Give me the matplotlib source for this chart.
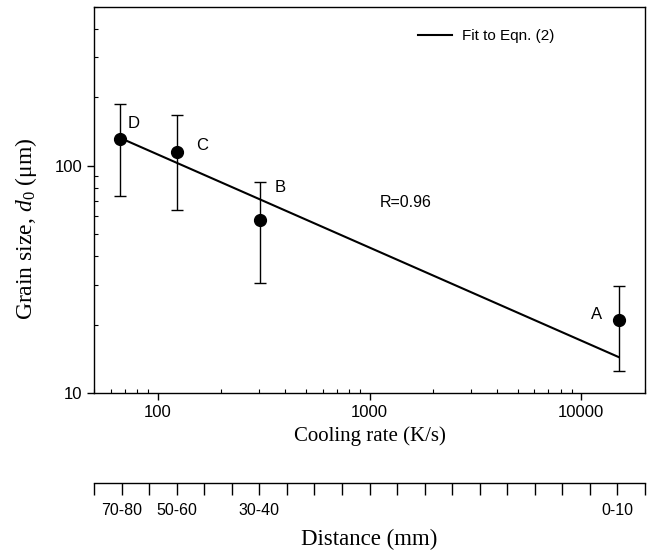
import numpy as np
import matplotlib
matplotlib.use("Agg")
import matplotlib.pyplot as plt
from matplotlib.ticker import FixedLocator, NullFormatter, LogLocator

# ---- data ----
sample_names = ["D", "C", "B", "A"]
cooling_rate = [66, 123, 305, 15000]          # K/s
grain_size = [131, 115, 57.5, 21]             # um
err_upper = [188, 167, 85, 29.5]              # top of error bar
err_lower = [74, 64, 30.5, 12.5]              # bottom of error bar

fit_rate = [66, 15000]
fit_size = [133, 14.4]

label_offsets = [(10, 11), (18, 5), (14, 24), (-16, 4)]   # points

distance_ticks = list(range(21))
distance_label_pos = [1, 3, 6, 19]
distance_labels = ["70-80", "50-60", "30-40", "0-10"]

sans = ["Liberation Sans", "DejaVu Sans"]
serif = ["Liberation Serif", "DejaVu Serif"]
plt.rcParams["font.family"] = sans
plt.rcParams["mathtext.fontset"] = "custom"
plt.rcParams["mathtext.rm"] = "Liberation Serif"
plt.rcParams["mathtext.it"] = "Liberation Serif:italic"

fig = plt.figure(figsize=(6.5, 5.5), dpi=100)
ax = fig.add_axes([94 / 650, 1 - 393 / 550, 551 / 650, 386 / 550])

yerr = [np.array(grain_size) - np.array(err_lower),
        np.array(err_upper) - np.array(grain_size)]
ax.errorbar(cooling_rate, grain_size, yerr=yerr, fmt="o", color="black",
            markersize=8.5, ecolor="black", elinewidth=1, capsize=4, capthick=1)
ax.plot(fit_rate, fit_size, color="black", lw=1.5, label="Fit to Eqn. (2)")

for name, x, y, off in zip(sample_names, cooling_rate, grain_size, label_offsets):
    ax.annotate(name, (x, y), xytext=off, textcoords="offset points",
                ha="center", va="center", fontsize=12)

ax.text(1476, 68.7, "R=0.96", ha="center", va="center", fontsize=11.5)

ax.set_xscale("log")
ax.set_yscale("log")
ax.set_xlim(50, 20000)
ax.set_ylim(10, 500)

ax.xaxis.set_major_locator(FixedLocator([100, 1000, 10000]))
ax.set_xticklabels(["100", "1000", "10000"])
ax.xaxis.set_minor_locator(LogLocator(base=10, subs=np.arange(2, 10)))
ax.xaxis.set_minor_formatter(NullFormatter())
ax.yaxis.set_major_locator(FixedLocator([10, 100]))
ax.set_yticklabels(["10", "100"])
ax.yaxis.set_minor_locator(LogLocator(base=10, subs=np.arange(2, 10)))
ax.yaxis.set_minor_formatter(NullFormatter())

ax.tick_params(which="major", direction="out", length=5, width=1, labelsize=12)
ax.tick_params(which="minor", direction="in", length=3, width=0.8)
for sp in ax.spines.values():
    sp.set_linewidth(1)

ax.set_xlabel("Cooling rate (K/s)", family=serif, fontsize=15)
ax.xaxis.set_label_coords(0.5, -0.085)
ax.set_ylabel(r"Grain size, $\mathit{d}_\mathit{0}$ ($\mathrm{\mu}$m)", family=serif, fontsize=17)
ax.yaxis.set_label_coords(-0.1, 0.425)

ax.legend(loc="center left", bbox_to_anchor=(0.588, 0.925), frameon=False,
          borderpad=0, borderaxespad=0, handlelength=2.2, handletextpad=0.7,
          fontsize=11)

# ---- distance scale below ----
ax2 = fig.add_axes([94 / 650, 1 - 483 / 550, 551 / 650, 0.001])
ax2.set_xlim(0, 20)
ax2.set_facecolor("none")
for s in ["top", "left", "right"]:
    ax2.spines[s].set_visible(False)
ax2.spines["bottom"].set_linewidth(1)
ax2.set_yticks([])
ax2.xaxis.set_minor_locator(FixedLocator(distance_ticks))
ax2.set_xticks(distance_label_pos)
ax2.set_xticklabels(distance_labels)
ax2.tick_params(which="minor", direction="out", length=8.5, width=1)
ax2.tick_params(which="major", direction="out", length=8.5, width=1, pad=6, labelsize=11.5)
ax2.set_xlabel("Distance (mm)", family=serif, fontsize=16.5, labelpad=8)

fig.savefig("out.png", dpi=100)
